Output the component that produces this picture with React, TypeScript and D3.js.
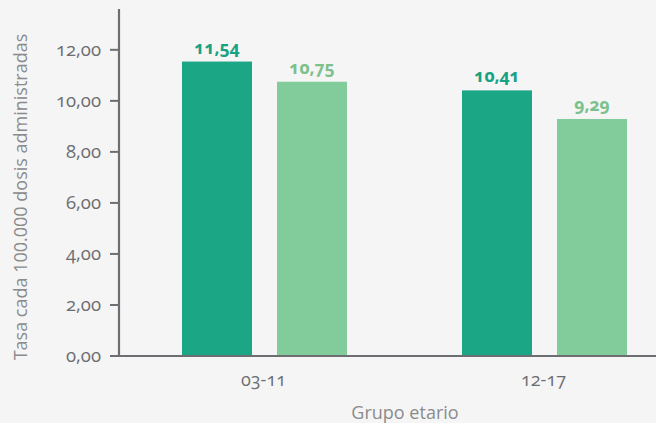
import React from "react";
import * as d3 from "d3";

const categories = ["03-11", "12-17"];
const series = ["s1", "s2"];
const seriesA = [11.54, 10.41];
const seriesB = [10.75, 9.29];
const yTicks = [0, 2, 4, 6, 8, 10, 12];

const W = 656;
const H = 423;
const FONT = "'Open Sans', 'Noto Sans', sans-serif";

export default function App() {
  const y = d3.scaleLinear().domain([0, 13.6]).range([356, 9]);
  const x = d3.scaleBand<string>().domain(categories).range([124.5, 684.5]).paddingInner(0).paddingOuter(0);
  const xs = d3.scaleBand<string>().domain(series).range([0, 165]).paddingInner(25 / 95).paddingOuter(0);
  const fmt = (v: number) => v.toFixed(2).replace(".", ",");
  const colors = ["#1ba686", "#82cb9b"];
  const labelColors = ["#17a283", "#7cc08c"];
  const axisColor = "#6d6e71";

  const bars: { cat: string; s: string; v: number; i: number }[] = [];
  categories.forEach((c, ci) => {
    bars.push({ cat: c, s: "s1", v: seriesA[ci], i: 0 });
    bars.push({ cat: c, s: "s2", v: seriesB[ci], i: 1 });
  });

  return (
    <svg width={W} height={H} style={{ position: "absolute", left: 0, top: 0, display: "block" }}>
      <rect x={0} y={0} width={W} height={H} fill="#f5f5f5" />
      {bars.map((b, k) => {
        const bx = (x(b.cat) as number) + x.bandwidth() / 2 - 82.5 + (xs(b.s) as number);
        return (
          <g key={k}>
            <rect x={bx} y={y(b.v)} width={xs.bandwidth()} height={y(0) - y(b.v)} fill={colors[b.i]} />
            <text
              x={bx + xs.bandwidth() / 2}
              y={y(b.v) - 8}
              textAnchor="middle"
              fontFamily={FONT}
              fontWeight={700}
              fontSize={17.5}
              fill={labelColors[b.i]}
              style={{ fontVariantNumeric: "oldstyle-nums" }}
            >
              {fmt(b.v)}
            </text>
          </g>
        );
      })}
      {/* y axis */}
      <line x1={119} x2={119} y1={9} y2={357} stroke={axisColor} strokeWidth={2.2} />
      {yTicks.map((t) => (
        <g key={t}>
          <line x1={110} x2={119} y1={y(t)} y2={y(t)} stroke={axisColor} strokeWidth={2} />
          <text
            x={101}
            y={y(t) + 6}
            textAnchor="end"
            fontFamily={FONT}
            fontSize={18.5}
            fill="#6d6e71"
            style={{ fontVariantNumeric: "oldstyle-nums" }}
          >
            {fmt(t)}
          </text>
        </g>
      ))}
      {/* x axis */}
      <line x1={118} x2={W} y1={356} y2={356} stroke={axisColor} strokeWidth={2.2} />
      {categories.map((c) => (
        <text
          key={c}
          x={(x(c) as number) + x.bandwidth() / 2 - 1}
          y={386}
          textAnchor="middle"
          fontFamily={FONT}
          fontSize={18}
          fill="#6d6e71"
          style={{ fontVariantNumeric: "oldstyle-nums" }}
        >
          {c}
        </text>
      ))}
      <text x={405} y={419} textAnchor="middle" fontFamily={FONT} fontSize={18} fill="#8a8b8d">
        Grupo etario
      </text>
      <text
        transform={`translate(27, 197) rotate(-90)`}
        textAnchor="middle"
        fontFamily={FONT}
        fontSize={18}
        fill="#8a8b8d"
      >
        Tasa cada 100.000 dosis administradas
      </text>
    </svg>
  );
}
